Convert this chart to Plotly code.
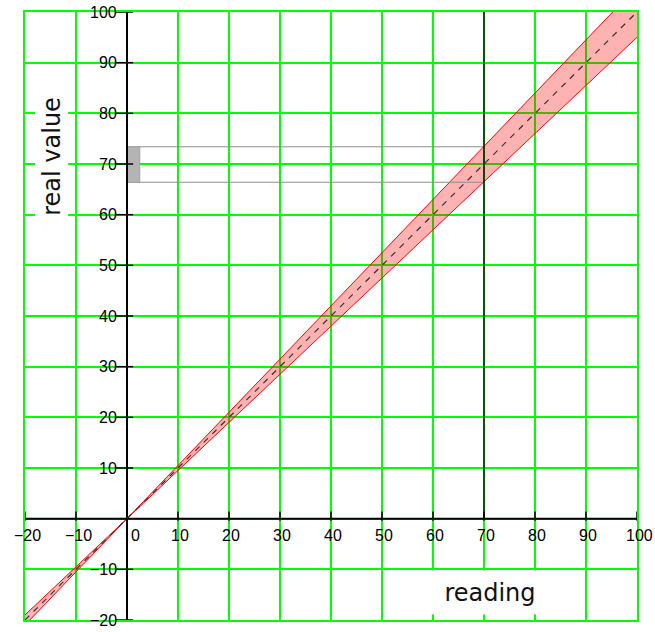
import plotly.graph_objects as go

# Calibration band: reading vs. real value (tolerance envelope around y = x)
band_x = [-20, -10, 0, 10, 20, 30, 40, 50, 60, 70, 80, 90, 100]
band_lo = [-21, -10.5, 0, 9.5, 19, 28.5, 38, 47.5, 57, 66.5, 76, 85.5, 95]
band_hi = [-19, -9.5, 0, 10.5, 21, 31.5, 42, 52.5, 63, 73.5, 84, 94.5, 105]

# Ideal line
ideal_x = [-20, 100]
ideal_y = [-20, 100]

# Highlighted reading and its interval of real values
reading_mark = 70
real_lo = 66.4
real_hi = 73.4
marker_w = 2.5

# Axis tick values / labels
x_ticks = [-20, -10, 0, 10, 20, 30, 40, 50, 60, 70, 80, 90, 100]
y_ticks = [-20, -10, 10, 20, 30, 40, 50, 60, 70, 80, 90, 100]

XMIN, XMAX, YMIN, YMAX = -20, 100, -20, 100


def lbl(v):
    return ("\u2212" + str(-v)) if v < 0 else str(v)


fig = go.Figure()

# tolerance band
fig.add_trace(go.Scatter(x=band_x, y=band_lo, mode="lines",
                         line=dict(color="#ff0000", width=1), hoverinfo="skip"))
fig.add_trace(go.Scatter(x=band_x, y=band_hi, mode="lines", fill="tonexty",
                         fillcolor="rgba(255,0,0,0.30)",
                         line=dict(color="#ff0000", width=1), hoverinfo="skip"))

# reading interval guide lines and marker box
fig.add_trace(go.Scatter(x=[0, reading_mark, None, 0, reading_mark],
                         y=[real_hi, real_hi, None, real_lo, real_lo],
                         mode="lines", line=dict(color="#8c8c8c", width=1),
                         hoverinfo="skip"))
fig.add_trace(go.Scatter(x=[0, marker_w, marker_w, 0, 0],
                         y=[real_lo, real_lo, real_hi, real_hi, real_lo],
                         mode="lines", fill="toself", fillcolor="#b4b4b4",
                         line=dict(color="#a0a0a0", width=1), hoverinfo="skip"))

# vertical line at the reading
fig.add_trace(go.Scatter(x=[reading_mark, reading_mark], y=[0, YMAX], mode="lines",
                         line=dict(color="black", width=1.3), hoverinfo="skip"))

# axes through the origin
fig.add_trace(go.Scatter(x=[XMIN, XMAX, None, 0, 0], y=[0, 0, None, YMIN, YMAX],
                         mode="lines", line=dict(color="black", width=2),
                         hoverinfo="skip"))

# tick marks on the axes
tx, ty = [], []
for v in x_ticks:
    tx += [v, v, None]
    ty += [-0.4, 1.4, None]
for v in y_ticks:
    tx += [-2.3, 1.2, None]
    ty += [v, v, None]
fig.add_trace(go.Scatter(x=tx, y=ty, mode="lines",
                         line=dict(color="black", width=1.5), hoverinfo="skip"))

# ideal line y = x
fig.add_trace(go.Scatter(x=ideal_x, y=ideal_y, mode="lines",
                         line=dict(color="#333333", width=1.2, dash="6px,6px"),
                         hoverinfo="skip"))

tick_font = dict(family="Liberation Sans, Arial", size=16, color="black")
ann = []
for v in x_ticks:
    ann.append(dict(x=v, y=0, xref="x", yref="y", text=lbl(v), showarrow=False,
                    xanchor="center", yanchor="top", yshift=-6,
                    xshift=8 if v == 0 else 2, font=tick_font))
for v in y_ticks:
    ann.append(dict(x=0, y=v, xref="x", yref="y", text=lbl(v), showarrow=False,
                    xanchor="right", yanchor="middle", xshift=-8, font=tick_font))

title_font = dict(family="DejaVu Sans", size=24, color="#111111")
ann.append(dict(x=-14.7, y=71.5, xref="x", yref="y", text="real value",
                showarrow=False, textangle=-90, bgcolor="white",
                width=140, height=32, borderpad=0, font=title_font))
ann.append(dict(x=71.2, y=-14.5, xref="x", yref="y", text="reading",
                showarrow=False, bgcolor="white",
                width=120, height=43, borderpad=0, font=title_font))

axis_common = dict(dtick=10, tick0=0, showgrid=True, gridcolor="#00ff00",
                   gridwidth=2, showticklabels=False, ticks="", zeroline=False,
                   showline=True, linecolor="#00ff00", linewidth=2, mirror=True)
fig.update_xaxes(range=[XMIN, XMAX], **axis_common)
fig.update_yaxes(range=[YMIN, YMAX], **axis_common)

fig.update_layout(width=655, height=632,
                  margin=dict(l=25, r=18, t=10, b=12),
                  plot_bgcolor="white", paper_bgcolor="white",
                  showlegend=False, annotations=ann)

fig.write_html("out.html")
